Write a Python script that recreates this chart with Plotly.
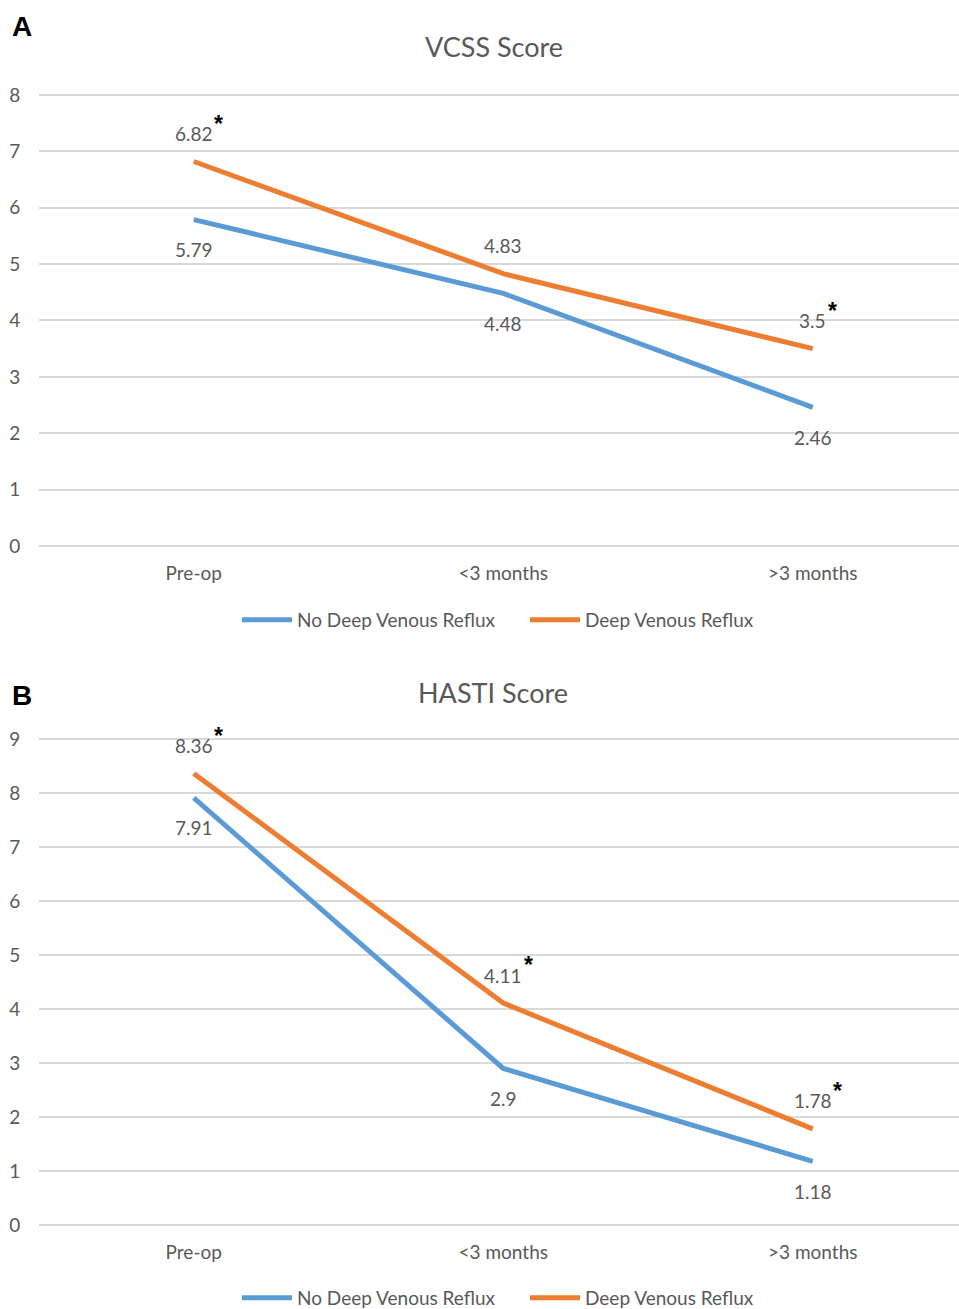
import plotly.graph_objects as go

categories = ["Pre-op", "<3 months", ">3 months"]

vcss_no_dvr = [5.79, 4.48, 2.46]
vcss_dvr = [6.82, 4.83, 3.5]
vcss_no_dvr_labels = ["5.79", "4.48", "2.46"]
vcss_dvr_labels = ["6.82", "4.83", "3.5"]
vcss_dvr_sig = [True, False, True]

hasti_no_dvr = [7.91, 2.9, 1.18]
hasti_dvr = [8.36, 4.11, 1.78]
hasti_no_dvr_labels = ["7.91", "2.9", "1.18"]
hasti_dvr_labels = ["8.36", "4.11", "1.78"]
hasti_dvr_sig = [True, True, True]

vcss_max = 8
hasti_max = 9

series_names = ["No Deep Venous Reflux", "Deep Venous Reflux"]
BLUE = "#5B9BD5"
ORANGE = "#ED7D31"
GRAY = "#595959"
GRID = "#D9D9D9"
FONT = "Lato"

W, H = 959, 1309
x_left, x_right = 39, 959


def py(p):
    return 1 - p / H


def px(p):
    return (p - x_left) / (x_right - x_left)


fig = go.Figure()

panels = [
    dict(no=vcss_no_dvr, dv=vcss_dvr, nol=vcss_no_dvr_labels, dvl=vcss_dvr_labels,
         sig=vcss_dvr_sig, xa="x", ya="y", legend="legend"),
    dict(no=hasti_no_dvr, dv=hasti_dvr, nol=hasti_no_dvr_labels, dvl=hasti_dvr_labels,
         sig=hasti_dvr_sig, xa="x2", ya="y2", legend="legend2"),
]

annotations = []


def text_width(s):
    w = 0
    for ch in s:
        w += 5.0 if ch == "." else 10.9
    return w


for p in panels:
    fig.add_trace(go.Scatter(x=categories, y=p["no"], mode="lines", name=series_names[0],
                             line=dict(color=BLUE, width=5), xaxis=p["xa"], yaxis=p["ya"],
                             legend=p["legend"], hoverinfo="skip"))
    fig.add_trace(go.Scatter(x=categories, y=p["dv"], mode="lines", name=series_names[1],
                             line=dict(color=ORANGE, width=5), xaxis=p["xa"], yaxis=p["ya"],
                             legend=p["legend"], hoverinfo="skip"))
    for c, v, lab in zip(categories, p["no"], p["nol"]):
        annotations.append(dict(x=c, y=v, xref=p["xa"], yref=p["ya"], text=lab, showarrow=False,
                                yshift=-30, font=dict(family=FONT, size=19, color=GRAY)))
    for c, v, lab, s in zip(categories, p["dv"], p["dvl"], p["sig"]):
        annotations.append(dict(x=c, y=v, xref=p["xa"], yref=p["ya"], text=lab, showarrow=False,
                                yshift=28, font=dict(family=FONT, size=19, color=GRAY)))
        if s:
            annotations.append(dict(x=c, y=v, xref=p["xa"], yref=p["ya"], text="<b>*</b>", showarrow=False,
                                    xshift=text_width(lab) / 2 + 6, yshift=38,
                                    font=dict(family="Liberation Sans", size=23, color="#000000")))

annotations += [
    dict(x=px(494), y=py(47), xref="paper", yref="paper", text="VCSS Score", showarrow=False,
         font=dict(family=FONT, size=27, color=GRAY), xanchor="center", yanchor="middle"),
    dict(x=px(493), y=py(692), xref="paper", yref="paper", text="HASTI Score", showarrow=False,
         font=dict(family=FONT, size=27, color=GRAY), xanchor="center", yanchor="middle"),
    dict(x=px(22), y=py(27), xref="paper", yref="paper", text="<b>A</b>", showarrow=False,
         font=dict(family="Liberation Sans", size=28, color="#000000"), xanchor="center", yanchor="middle"),
    dict(x=px(22), y=py(695), xref="paper", yref="paper", text="<b>B</b>", showarrow=False,
         font=dict(family="Liberation Sans", size=28, color="#000000"), xanchor="center", yanchor="middle"),
]

bin_w = 309.5
x_hi = (x_right - x_left) / bin_w - 0.5
E = 0.03

xcommon = dict(range=[-0.5, x_hi], showgrid=False, zeroline=False, showline=False,
               tickfont=dict(family=FONT, size=19, color=GRAY), ticks="outside",
               ticklen=9, tickcolor="rgba(0,0,0,0)", fixedrange=True, automargin=False)
ycommon = dict(showgrid=True, gridcolor=GRID, gridwidth=1.5, zeroline=True, zerolinecolor=GRID,
               zerolinewidth=1.5, showline=False, tickfont=dict(family=FONT, size=19, color=GRAY),
               ticks="outside", ticklen=14, tickcolor="rgba(0,0,0,0)", dtick=1, automargin=False)


def ydomain(top_px, bot_px, vmax):
    k = (bot_px - top_px) / vmax
    return [py(bot_px + E * k), py(top_px - E * k)]


legend_common = dict(orientation="h", x=px(237), xanchor="left", yanchor="middle",
                     yref="container", itemwidth=50, tracegroupgap=0, entrywidth=223,
                     font=dict(family=FONT, size=19, color=GRAY), bgcolor="rgba(0,0,0,0)")

fig.update_layout(
    width=W, height=H, autosize=False,
    margin=dict(l=x_left, r=W - x_right, t=0, b=0, autoexpand=False),
    paper_bgcolor="white", plot_bgcolor="white",
    font=dict(family=FONT, color=GRAY),
    xaxis=dict(domain=[0, 1], anchor="y", **xcommon),
    yaxis=dict(domain=ydomain(95, 546, vcss_max), range=[-E, vcss_max + E], anchor="x", **ycommon),
    xaxis2=dict(domain=[0, 1], anchor="y2", **xcommon),
    yaxis2=dict(domain=ydomain(739, 1225, hasti_max), range=[-E, hasti_max + E], anchor="x2", **ycommon),
    legend=dict(y=py(620), **legend_common),
    legend2=dict(y=py(1298), **legend_common),
    annotations=annotations,
    showlegend=True,
)

fig.write_html("out.html")
